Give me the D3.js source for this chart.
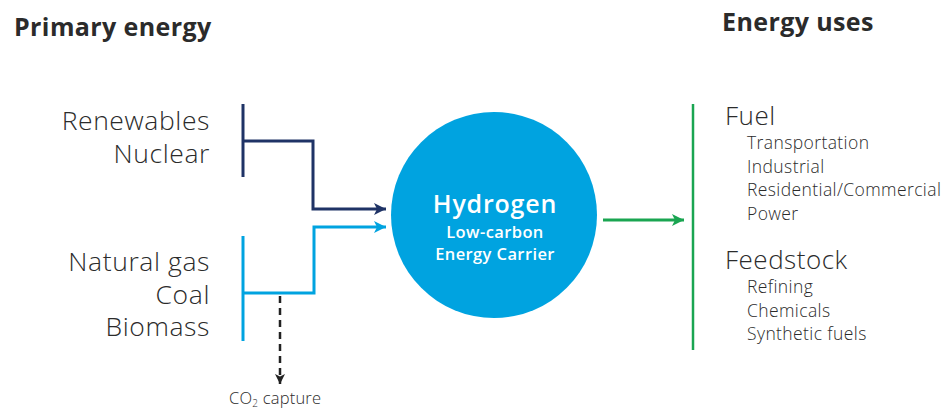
<!DOCTYPE html>
<html>
<head>
<meta charset="utf-8">
<script src="https://cdn.jsdelivr.net/npm/d3@7"></script>
<style>
  body { margin: 0; background: #fff; }
  text { font-family: "Open Sans", sans-serif; }
</style>
</head>
<body>
<svg width="944" height="411"></svg>
<script>
const svg = d3.select("svg");

// labels
const headings = ["Primary energy", "Energy uses"];
const sourcesClean = ["Renewables", "Nuclear"];
const sourcesFossil = ["Natural gas", "Coal", "Biomass"];
const carrierLines = ["Hydrogen", "Low-carbon", "Energy Carrier"];
const useGroups = ["Fuel", "Feedstock"];
const fuelUses = ["Transportation", "Industrial", "Residential/Commercial", "Power"];
const feedstockUses = ["Refining", "Chemicals", "Synthetic fuels"];
const captureLabel = "CO";

// colours
const navy = "#1f3366";
const sky = "#00a3e0";
const green = "#1aa551";
const ink = "#2b2b2b";

// arrow markers
const defs = svg.append("defs");
function marker(id, color, w, h) {
    defs.append("marker")
        .attr("id", id)
        .attr("viewBox", "0 0 10 10")
        .attr("refX", 10).attr("refY", 5)
        .attr("markerUnits", "userSpaceOnUse")
        .attr("markerWidth", w).attr("markerHeight", h)
        .attr("orient", "auto")
        .append("path")
        .attr("d", "M0,0L10,5L0,10L2.5,5Z")
        .attr("fill", color);
}
marker("a-navy", navy, 16, 12);
marker("a-sky", sky, 16, 12);
marker("a-green", green, 18, 12);
marker("a-dash", "#222", 10, 12);

// headings
svg.append("text").attr("x", 14).attr("y", 36)
    .attr("font-size", 25).attr("font-weight", 700).attr("fill", ink)
    .attr("letter-spacing", 0.4)
    .text(headings[0]);
svg.append("text").attr("x", 722).attr("y", 31)
    .attr("font-size", 25).attr("font-weight", 700).attr("fill", ink)
    .attr("letter-spacing", 0.4)
    .text(headings[1]);

// left source labels
const line = d3.line();
function sourceLabels(list, y0, step) {
    svg.append("g").selectAll("text")
        .data(list).join("text")
        .attr("x", 210)
        .attr("y", (d, i) => y0 + i * step)
        .attr("text-anchor", "end")
        .attr("font-size", 26.5).attr("font-weight", 300).attr("fill", ink)
        .attr("letter-spacing", 0.6)
        .text(d => d);
}
sourceLabels(sourcesClean, 130, 32.5);
sourceLabels(sourcesFossil, 271, 32.5);

// navy bracket + elbow arrow
svg.append("path").attr("d", line([[243, 104], [243, 177]]))
    .attr("stroke", navy).attr("stroke-width", 3).attr("fill", "none");
svg.append("path").attr("d", line([[243, 141], [313, 141], [313, 209], [386, 209]]))
    .attr("stroke", navy).attr("stroke-width", 3).attr("fill", "none")
    .attr("marker-end", "url(#a-navy)");

// sky bracket + elbow arrow
svg.append("path").attr("d", line([[243, 236], [243, 341]]))
    .attr("stroke", sky).attr("stroke-width", 3).attr("fill", "none");
svg.append("path").attr("d", line([[243, 293], [314, 293], [314, 227], [386, 227]]))
    .attr("stroke", sky).attr("stroke-width", 3).attr("fill", "none")
    .attr("marker-end", "url(#a-sky)");

// CO2 capture dashed arrow
svg.append("path").attr("d", line([[280, 296], [280, 384]]))
    .attr("stroke", "#222").attr("stroke-width", 2.5).attr("fill", "none")
    .attr("stroke-dasharray", "7,5")
    .attr("marker-end", "url(#a-dash)");
const co2 = svg.append("text").attr("x", 229).attr("y", 404)
    .attr("font-size", 16.5).attr("font-weight", 300).attr("fill", ink)
    .attr("letter-spacing", 0.2);
co2.append("tspan").text(captureLabel);
co2.append("tspan").attr("font-size", 10).attr("dy", 2.5).text("2");
co2.append("tspan").attr("dy", -2.5).text(" capture");

// hydrogen circle
svg.append("circle").attr("cx", 494).attr("cy", 215).attr("r", 103)
    .attr("fill", "#00a3e0");
svg.append("g").selectAll("text")
    .data(carrierLines).join("text")
    .attr("x", 495)
    .attr("y", (d, i) => [213, 238, 260][i])
    .attr("text-anchor", "middle")
    .attr("fill", "#fff")
    .attr("font-size", (d, i) => i === 0 ? 25 : 16.5)
    .attr("font-weight", 600)
    .attr("letter-spacing", (d, i) => i === 0 ? 0.8 : 0.4)
    .text(d => d);

// green arrow + bracket
svg.append("path").attr("d", line([[603, 220], [684, 220]]))
    .attr("stroke", green).attr("stroke-width", 3).attr("fill", "none")
    .attr("marker-end", "url(#a-green)");
svg.append("path").attr("d", line([[693, 104], [693, 350]]))
    .attr("stroke", green).attr("stroke-width", 2.5).attr("fill", "none");

// energy uses
function useBlock(title, items, y0) {
    svg.append("text").attr("x", 725).attr("y", y0)
        .attr("font-size", 26).attr("font-weight", 300).attr("fill", ink)
        .attr("letter-spacing", 0.5)
        .text(title);
    svg.append("g").selectAll("text")
        .data(items).join("text")
        .attr("x", 747)
        .attr("y", (d, i) => y0 + 24 + i * 23.7)
        .attr("font-size", 17.5).attr("font-weight", 300).attr("fill", ink)
        .attr("letter-spacing", 0.4)
        .text(d => d);
}
useBlock(useGroups[0], fuelUses, 125);
useBlock(useGroups[1], feedstockUses, 269);
</script>
</body>
</html>
